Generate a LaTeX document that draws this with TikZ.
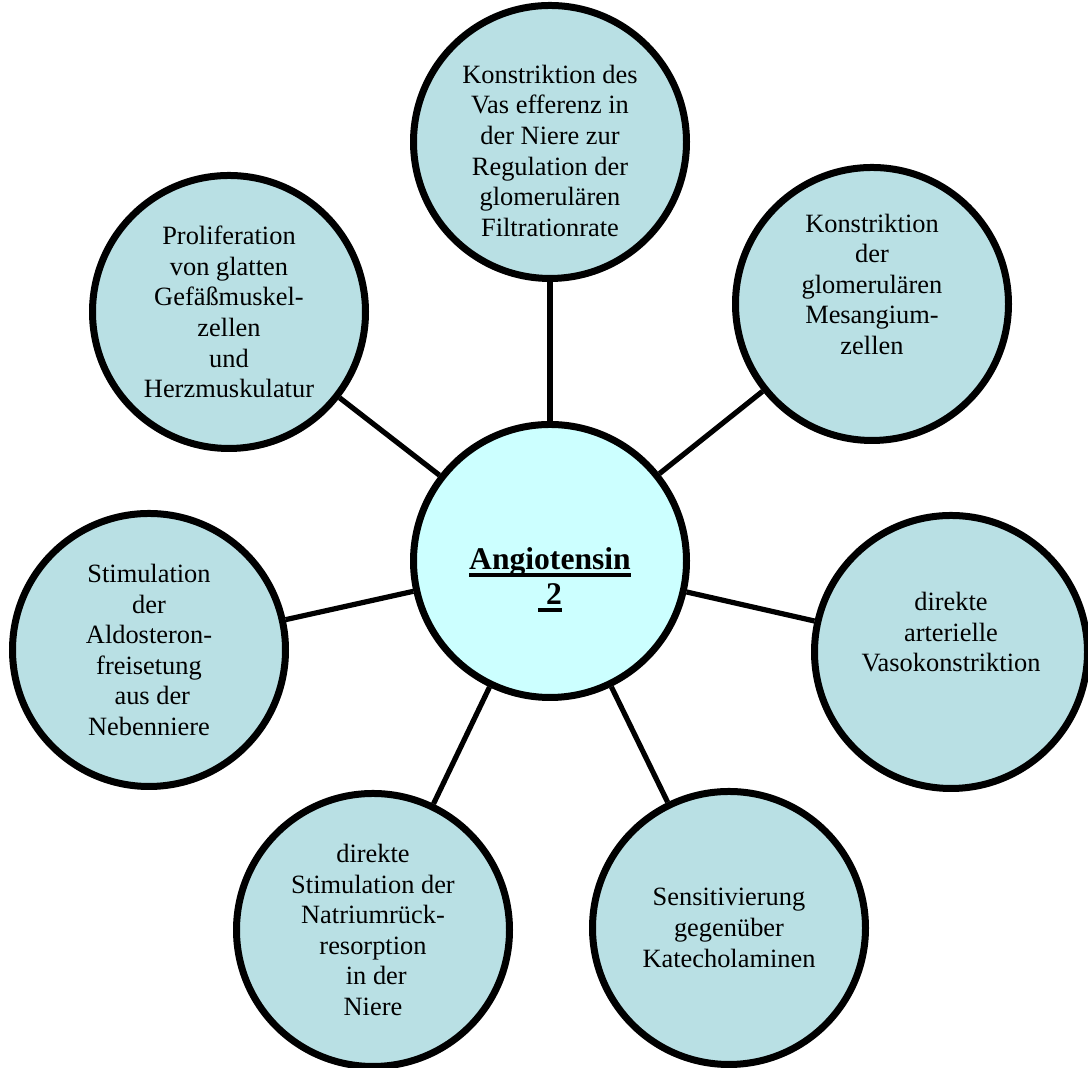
\documentclass[tikz,border=0pt]{standalone}
\usepackage{fontspec}
\setmainfont{Liberation Serif}
\definecolor{bubblecolor}{HTML}{B9E0E4}
\definecolor{hubcolor}{HTML}{CCFFFF}
\newcommand\ulword[1]{\setbox0\hbox{#1}\rlap{\rule[-3.5pt]{\wd0}{2pt}}\box0}

\begin{document}
\begin{tikzpicture}[x=.5pt,y=.5pt,
  bubble/.style={circle,draw,line width=3.5pt,fill=bubblecolor,minimum size=136.5pt,inner sep=0pt,align=center,font=\fontsize{13.2}{15.3}\selectfont},
  hub/.style={bubble,fill=hubcolor,font=\fontsize{15.8}{17.5}\selectfont\bfseries},
  spoke/.style={line width=2.6pt}]
\useasboundingbox(0,0)rectangle(1088,1068);
\node[hub](ag)at(550,507){\strut\\\ulword{Angiotensin}\\\ulword{\ 2}};
\node[bubble](vas)at(550,926){\rule{0pt}{18pt}Konstriktion des\\Vas efferenz in\\der Niere zur\\Regulation der\\glomerulären\\Filtrationrate};
\node[bubble](mes)at(872,764){Konstriktion\\der\\glomerulären\\Mesangium-\\zellen\\\strut};
\node[bubble](vaso)at(951,416){direkte\\arterielle\\Vasokonstriktion\\\strut};
\node[bubble](kat)at(729,140){Sensitivierung\\gegenüber\\Katecholaminen};
\node[bubble](nat)at(373,138){direkte\\Stimulation der\\Natriumrück-\\resorption\\\ in der\\Niere};
\node[bubble](aldo)at(149,418){Stimulation\\der\\Aldosteron-\\freisetung\\\ aus der\\Nebenniere};
\node[bubble](prol)at(229,756){Proliferation\\von glatten\\Gefäßmuskel-\\zellen\\und\\Herzmuskulatur};
\foreach\n in{vas,mes,vaso,kat,nat,aldo,prol}\draw[spoke](ag)--(\n);
\end{tikzpicture}
\end{document}
